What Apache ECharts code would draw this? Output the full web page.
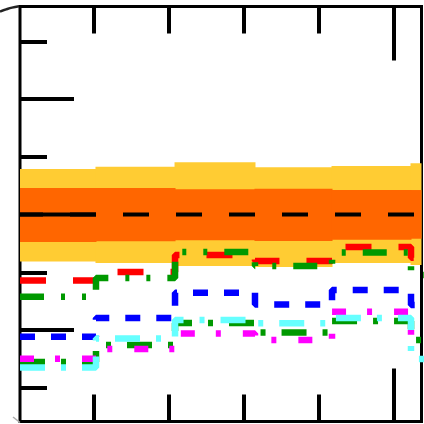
<!DOCTYPE html>
<html>
<head>
<meta charset="utf-8">
<script src="https://cdn.jsdelivr.net/npm/echarts@6/dist/echarts.min.js"></script>
<style>
  html, body { margin: 0; padding: 0; background: #fff; }
  #chart { width: 424px; height: 424px; }
</style>
</head>
<body>
<div id="chart"></div>
<script>
// Bin edges along the horizontal axis (last edge runs past the frame)
const binEdges = [0.02, 1.033, 2.087, 3.153, 4.18, 5.233, 5.5];

// Tick positions
const xMinorTicks = [1, 2, 3, 4, 5];
const xMajorTicks = [5];
const yMinorTicks = [-1, 0, 1, 2, 3, 4, 5];
const yMajorTicks = [0, 4];

// Expected value and its uncertainty bands, one value per bin
const expected   = [2.0, 2.0, 2.0, 2.0, 2.0, 2.0];
const band1Low   = [1.524, 1.536, 1.553, 1.541, 1.564, 1.581];
const band1High  = [2.459, 2.459, 2.436, 2.447, 2.424, 2.424];
const band2Low   = [1.186, 1.160, 1.108, 1.091, 1.160, 1.126];
const band2High  = [2.788, 2.828, 2.904, 2.817, 2.840, 2.887];

// Observed values, one value per bin
const obsRed      = [0.857, 1.004, 1.299, 1.195, 1.437, 1.25];
const obsGreenA   = [0.577, 0.900, 1.351, 1.108, 1.342, 0.952];
const obsBlue     = [-0.116, 0.208, 0.646, 0.442, 0.693, 0.433];
const obsGreenB   = [-0.554, -0.260, 0.121, -0.043, 0.156, -0.173];
const obsMagenta  = [-0.497, -0.329, -0.061, -0.173, 0.317, -0.208];
const obsCyan     = [-0.649, -0.147, 0.173, 0.116, 0.208, -0.502];

const X_MIN = 0.02, X_MAX = 5.373;
const Y_MIN = -1.584, Y_MAX = 5.602;

// Turn per-bin values into step-line points (last value repeated at the last edge)
function stepPoints(vals) {
  const pts = vals.map((v, i) => [binEdges[i], v]);
  pts.push([binEdges[binEdges.length - 1], vals[vals.length - 1]]);
  return pts;
}

// Rows [x0, x1, low, high] for the band rectangles
function bandRows(lo, hi) {
  return lo.map((v, i) => [binEdges[i], binEdges[i + 1], v, hi[i]]);
}

function bandSeries(lo, hi, color) {
  return {
    type: 'custom',
    xAxisIndex: 0, yAxisIndex: 0,
    data: bandRows(lo, hi),
    silent: true,
    renderItem: function (params, api) {
      const p0 = api.coord([api.value(0), api.value(3)]);
      const p1 = api.coord([api.value(1), api.value(2)]);
      const cs = params.coordSys;
      const rect = echarts.graphic.clipRectByRect(
        { x: p0[0] - 0.5, y: p0[1], width: p1[0] - p0[0] + 1, height: p1[1] - p0[1] },
        { x: cs.x, y: cs.y, width: cs.width, height: cs.height }
      );
      if (!rect) return null;
      return { type: 'rect', shape: rect, style: { fill: color } };
    }
  };
}

function stepLine(vals, color, dash, width, offset) {
  return {
    type: 'line',
    xAxisIndex: 0, yAxisIndex: 0,
    step: 'end',
    symbol: 'none',
    data: stepPoints(vals),
    lineStyle: { color: color, width: width, type: dash, dashOffset: offset || 0, cap: 'butt' },
    silent: true
  };
}

function tickAxis(kind, position, ticks, len) {
  return {
    type: 'value',
    position: position,
    min: kind === 'x' ? X_MIN : Y_MIN,
    max: kind === 'x' ? X_MAX : Y_MAX,
    axisLine: { show: false, onZero: false },
    axisLabel: { show: false },
    splitLine: { show: false },
    axisTick: {
      show: true, inside: true, length: len,
      customValues: ticks,
      lineStyle: { color: '#000', width: 4 }
    }
  };
}

const chart = echarts.init(document.getElementById('chart'), null, { renderer: 'canvas' });

chart.setOption({
  animation: false,
  backgroundColor: '#fff',
  grid: {
    left: 20, top: 6.5, right: 2.5, bottom: 2.5,
    show: true, borderColor: '#000', borderWidth: 3, backgroundColor: 'transparent'
  },
  xAxis: [
    tickAxis('x', 'bottom', xMinorTicks, 27),
    tickAxis('x', 'top', xMinorTicks, 27),
    tickAxis('x', 'bottom', xMajorTicks, 53),
    tickAxis('x', 'top', xMajorTicks, 54)
  ],
  yAxis: [
    tickAxis('y', 'left', yMinorTicks, 27),
    tickAxis('y', 'left', yMajorTicks, 54)
  ],
  series: [
    bandSeries(band2Low, band2High, '#FFCC33'),
    bandSeries(band1Low, band1High, '#FF6600'),
    // expected value: solid through the first bin, dashed after
    {
      type: 'line', xAxisIndex: 0, yAxisIndex: 0, symbol: 'none', silent: true,
      data: [[binEdges[0], expected[0]], [binEdges[1], expected[0]]],
      lineStyle: { color: '#000', width: 4 }
    },
    stepLine(expected, '#000', [26, 27], 4, 3),
    stepLine(obsRed, '#FF0000', [26, 27], 6.5),
    stepLine(obsGreenA, '#009900', [24, 17, 4, 17, 4, 17], 6.5),
    stepLine(obsBlue, '#0000FF', [15, 16], 6.5),
    stepLine(obsGreenB, '#009900', [25, 16, 5, 16], 6.5),
    stepLine(obsMagenta, '#FF00FF', [14, 21, 5, 22], 6.5),
    stepLine(obsCyan, '#66FFFF', [25, 16, 5, 16], 6.5)
  ],
  graphic: [
    {
      type: 'polyline', silent: true,
      shape: { points: [[0, 11.5], [6, 9.4], [12, 7.6], [19, 6.3]], smooth: 0.4 },
      style: { stroke: '#222', lineWidth: 2.5, fill: null }
    },
    {
      type: 'line', silent: true,
      shape: { x1: 13, y1: 417, x2: 20, y2: 422.5 },
      style: { stroke: '#aaa', lineWidth: 1.5 }
    }
  ]
});
</script>
</body>
</html>
